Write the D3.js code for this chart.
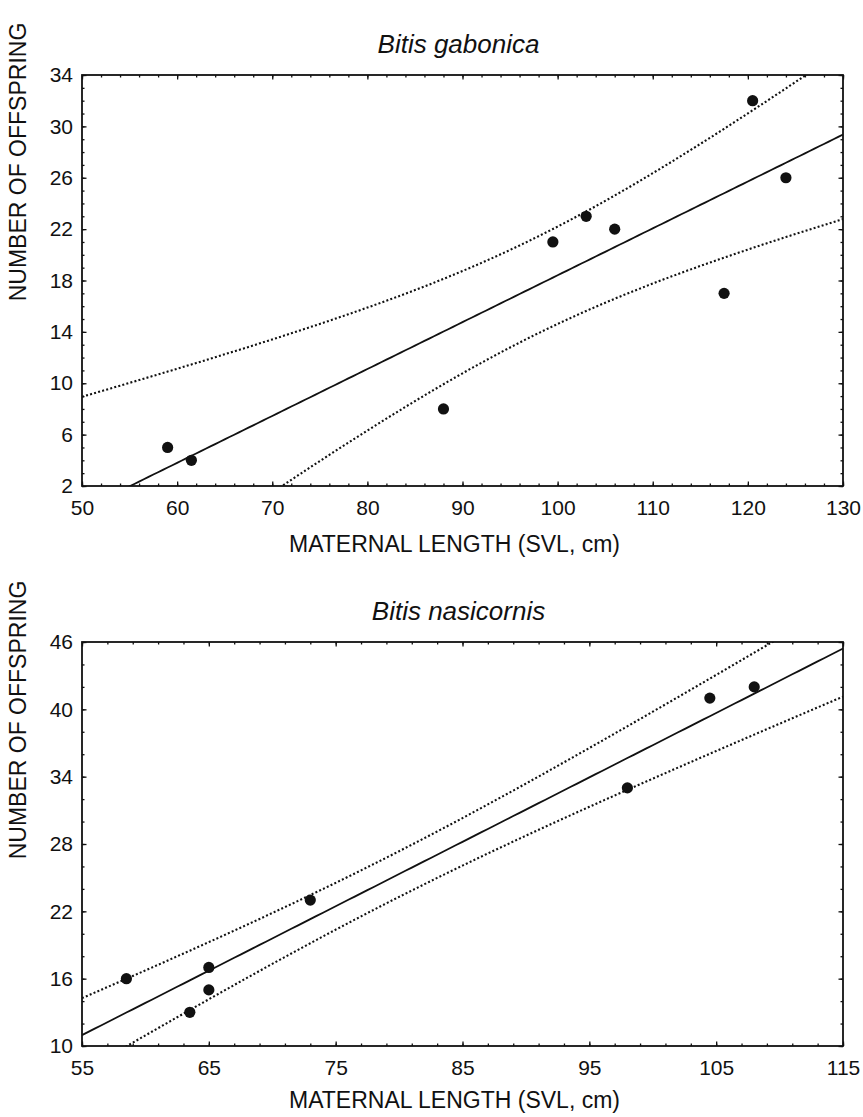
<!DOCTYPE html>
<html>
<head>
<meta charset="utf-8">
<script src="https://d3js.org/d3.v7.min.js"></script>
<style>
  body { margin: 0; background: #fff; }
  text { font-family: "Liberation Sans", Arial, Helvetica, sans-serif; fill: #111; }
</style>
</head>
<body>
<svg id="chart" width="863" height="1117"></svg>
<script>
// Bitis gabonica: maternal SVL (cm) vs number of offspring
var gabLength = [59, 61.5, 88, 99.5, 103, 106, 117.5, 120.5, 124];
var gabOffspring = [5, 4, 8, 21, 23, 22, 17, 32, 26];

// Bitis nasicornis
var nasLength = [58.5, 63.5, 65, 65, 73, 98, 104.5, 108];
var nasOffspring = [16, 13, 15, 17, 23, 33, 41, 42];

// tick labels
var gabXTicks = [50, 60, 70, 80, 90, 100, 110, 120, 130];
var gabYTicks = [2, 6, 10, 14, 18, 22, 26, 30, 34];
var nasXTicks = [55, 65, 75, 85, 95, 105, 115];
var nasYTicks = [10, 16, 22, 28, 34, 40, 46];

// t(0.975) for n-2 degrees of freedom (95% confidence band of the mean)
var tCrit = { 6: 2.447, 7: 2.365 };

var svg = d3.select("#chart");
svg.append("rect").attr("width", 863).attr("height", 1117).attr("fill", "#fff");

function panel(opt) {
  var left = 82, right = 843;
  var x = d3.scaleLinear().domain(opt.xDomain).range([left, right]);
  var y = d3.scaleLinear().domain(opt.yDomain).range([opt.bottom, opt.top]);
  var g = svg.append("g");
  var h = opt.bottom - opt.top;

  var clipId = "clip" + opt.top;
  g.append("clipPath").attr("id", clipId)
    .append("rect")
    .attr("x", left).attr("y", opt.top)
    .attr("width", right - left).attr("height", h);

  // linear regression + 95% CI of the mean, from the points
  var n = opt.xs.length;
  var mx = d3.mean(opt.xs), my = d3.mean(opt.ys);
  var sxx = d3.sum(opt.xs, function(v) { return (v - mx) * (v - mx); });
  var sxy = d3.sum(opt.xs, function(v, i) { return (v - mx) * (opt.ys[i] - my); });
  var b = sxy / sxx, a = my - b * mx;
  var sse = d3.sum(opt.xs, function(v, i) { var r = opt.ys[i] - (a + b * v); return r * r; });
  var s = Math.sqrt(sse / (n - 2));
  var t = tCrit[n - 2];

  var grid = d3.range(opt.xDomain[0], opt.xDomain[1] + 0.01, 0.5);
  var fit = grid.map(function(v) {
    var yh = a + b * v;
    var hw = t * s * Math.sqrt(1 / n + (v - mx) * (v - mx) / sxx);
    return { x: v, y: yh, lo: yh - hw, hi: yh + hw };
  });

  var plot = g.append("g").attr("clip-path", "url(#" + clipId + ")");

  plot.append("path")
    .datum(fit)
    .attr("fill", "none")
    .attr("stroke", "#111")
    .attr("stroke-width", 1.8)
    .attr("d", d3.line().x(function(d) { return x(d.x); }).y(function(d) { return y(d.y); }));

  ["lo", "hi"].forEach(function(k) {
    plot.append("path")
      .datum(fit)
      .attr("fill", "none")
      .attr("stroke", "#111")
      .attr("stroke-width", 2.1)
      .attr("stroke-dasharray", "2,2.2")
      .attr("d", d3.line().x(function(d) { return x(d.x); }).y(function(d) { return y(d[k]); }));
  });

  plot.selectAll("circle")
    .data(opt.xs)
    .enter().append("circle")
    .attr("cx", function(d) { return x(d); })
    .attr("cy", function(d, i) { return y(opt.ys[i]); })
    .attr("r", 5.6)
    .attr("fill", "#111");

  // ticks, inward on all four sides
  var xMinor = d3.range(opt.xDomain[0], opt.xDomain[1] + 0.01, opt.xMinor);
  var yMinor = d3.range(opt.yDomain[0], opt.yDomain[1] + 0.01, opt.yMinor);

  function addAxis(axis, tr, labels) {
    var ax = g.append("g").attr("transform", tr).call(axis);
    ax.select(".domain").remove();
    ax.selectAll("line").attr("stroke", "#111").attr("stroke-width", 1.3);
    ax.selectAll("text").attr("font-size", 21).attr("fill", "#111")
      .style("font-family", '"Liberation Sans", Arial, sans-serif');
    if (!labels) ax.selectAll("text").remove();
    return ax;
  }
  addAxis(d3.axisBottom(x).tickValues(opt.xTicks).tickSize(-4.5).tickPadding(14).tickFormat(d3.format("d")),
    "translate(0," + opt.bottom + ")", true);
  addAxis(d3.axisBottom(x).tickValues(xMinor).tickSize(-2.5), "translate(0," + opt.bottom + ")", false);
  addAxis(d3.axisTop(x).tickValues(opt.xTicks).tickSize(-4.5), "translate(0," + opt.top + ")", false);
  addAxis(d3.axisTop(x).tickValues(xMinor).tickSize(-2.5), "translate(0," + opt.top + ")", false);
  addAxis(d3.axisLeft(y).tickValues(opt.yTicks).tickSize(-4.5).tickPadding(9).tickFormat(d3.format("d")),
    "translate(" + left + ",0)", true);
  addAxis(d3.axisLeft(y).tickValues(yMinor).tickSize(-2.5), "translate(" + left + ",0)", false);
  addAxis(d3.axisRight(y).tickValues(opt.yTicks).tickSize(-4.5), "translate(" + right + ",0)", false);
  addAxis(d3.axisRight(y).tickValues(yMinor).tickSize(-2.5), "translate(" + right + ",0)", false);

  // frame
  g.append("rect")
    .attr("x", left).attr("y", opt.top)
    .attr("width", right - left).attr("height", h)
    .attr("fill", "none")
    .attr("stroke", "#111")
    .attr("stroke-width", 1.8);

  g.append("text")
    .attr("x", (left + right) / 2 - 4)
    .attr("y", opt.top - 22)
    .attr("text-anchor", "middle")
    .attr("font-size", 26)
    .attr("font-style", "italic")
    .text(opt.title);

  g.append("text")
    .attr("x", (left + right) / 2 - 8)
    .attr("y", opt.bottom + opt.xLabelGap)
    .attr("text-anchor", "middle")
    .attr("font-size", 23)
    .text("MATERNAL LENGTH (SVL, cm)");

  g.append("text")
    .attr("transform", "translate(26," + opt.yLabelMid + ") rotate(-90)")
    .attr("text-anchor", "middle")
    .attr("font-size", 23)
    .text("NUMBER OF OFFSPRING");
}

panel({
  title: "Bitis gabonica",
  xs: gabLength, ys: gabOffspring,
  xDomain: [50, 130], yDomain: [2, 34],
  xTicks: gabXTicks, yTicks: gabYTicks,
  xMinor: 2, yMinor: 1,
  top: 75, bottom: 486, yLabelMid: 162, xLabelGap: 66
});

panel({
  title: "Bitis nasicornis",
  xs: nasLength, ys: nasOffspring,
  xDomain: [55, 115], yDomain: [10, 46],
  xTicks: nasXTicks, yTicks: nasYTicks,
  xMinor: 2, yMinor: 2,
  top: 642, bottom: 1046, yLabelMid: 720, xLabelGap: 62
});
</script>
</body>
</html>
